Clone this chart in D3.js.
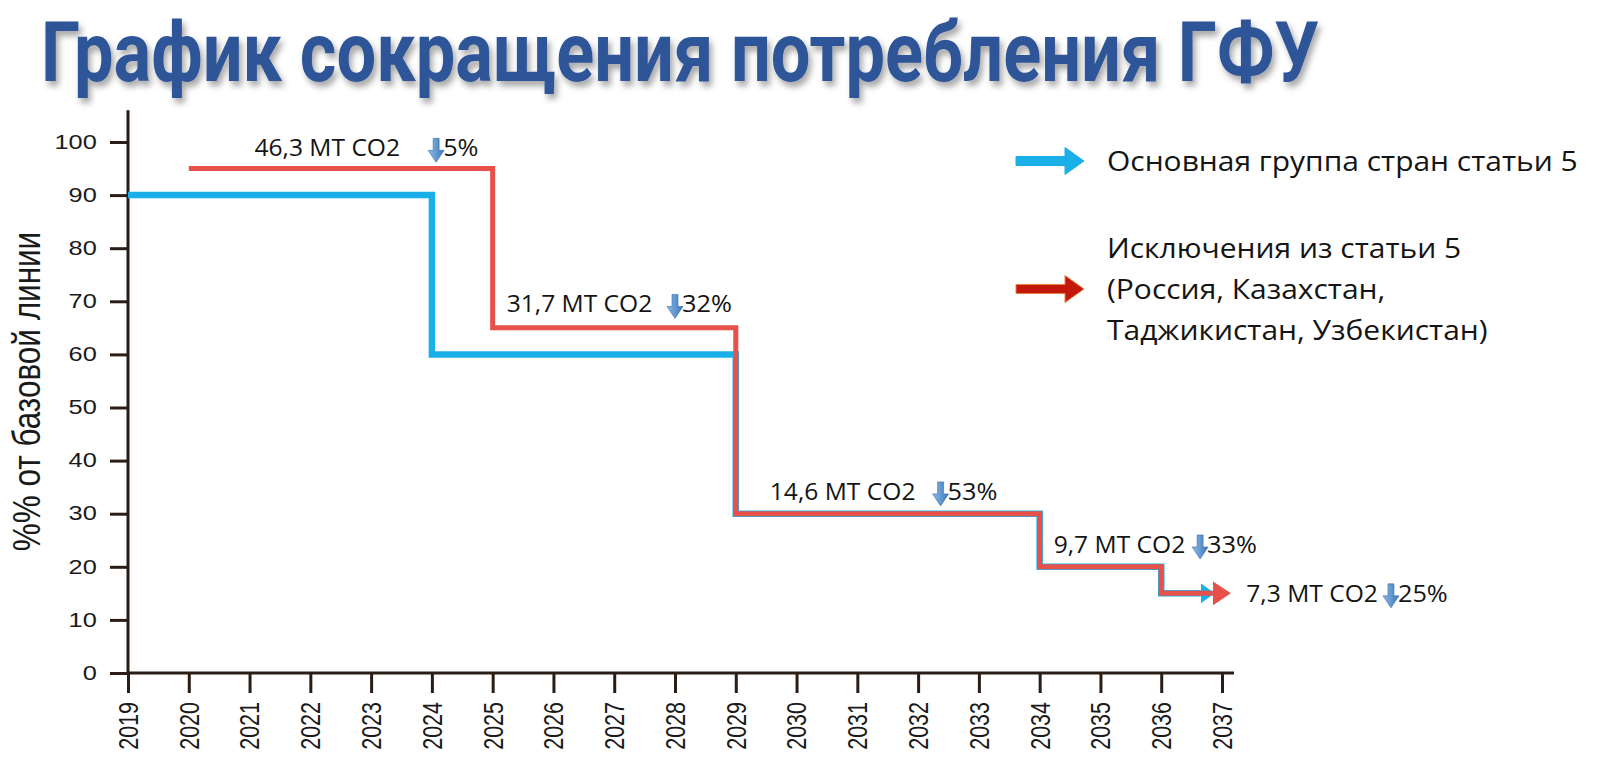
<!DOCTYPE html>
<html lang="ru">
<head>
<meta charset="UTF-8">
<title>График сокращения потребления ГФУ</title>
<script src="https://d3js.org/d3.v7.min.js"></script>
<style>
  body { margin: 0; background: #fff; }
  svg { display: block; }
  .axis path, .axis line { stroke: #2a1d16; stroke-width: 3; }
  .axis text { font-family: "Liberation Sans", Arial, sans-serif; fill: #1a1a1a; }
  .note text, .legend text { font-family: "Open Sans", sans-serif; fill: #141414; }
</style>
</head>
<body>
<svg width="1600" height="775"></svg>
<script>
const years = [2019, 2020, 2021, 2022, 2023, 2024, 2025, 2026, 2027, 2028,
               2029, 2030, 2031, 2032, 2033, 2034, 2035, 2036, 2037];
const yTicks = [0, 10, 20, 30, 40, 50, 60, 70, 80, 90, 100];

// step starts: value holds from this year until the next one
const mainYears  = [2019, 2024, 2029, 2034, 2036, 2036.65];
const mainValues = [90, 60, 30, 20, 15, 15];
const exclYears  = [2020, 2025, 2029, 2034, 2036, 2036.85];
const exclValues = [95, 65, 30, 20, 15, 15];

const noteLabels   = ["46,3 MT CO2", "31,7 MT CO2", "14,6 MT CO2", "9,7 MT CO2", "7,3 MT CO2"];
const notePercents = ["5%", "32%", "53%", "33%", "25%"];
const noteYears    = [2021.08, 2025.23, 2029.56, 2034.23, 2037.40];
const noteArrows   = [2024.07, 2028.00, 2032.37, 2036.64, 2039.78];
const noteValues   = [97.3, 67.9, 32.6, 22.6, 13.4];

const legendMain = ["Основная группа стран статьи 5"];
const legendExcl = ["Исключения из статьи 5", "(Россия, Казахстан,", "Таджикистан, Узбекистан)"];

const blue = "#1bafe8", red = "#e8504a";

const svg = d3.select("svg");
const defs = svg.append("defs");

const shadow = defs.append("filter").attr("id", "shadow")
    .attr("x", "-5%").attr("y", "-20%").attr("width", "110%").attr("height", "160%");
shadow.append("feDropShadow").attr("dx", 3).attr("dy", 5).attr("stdDeviation", 3)
    .attr("flood-color", "#000").attr("flood-opacity", 0.35);

const grad = defs.append("linearGradient").attr("id", "down");
grad.append("stop").attr("offset", "0%").attr("stop-color", "#8dbbe8");
grad.append("stop").attr("offset", "100%").attr("stop-color", "#3b76b8");

function head(id, color, len, half) {
    defs.append("marker").attr("id", id)
        .attr("markerUnits", "userSpaceOnUse")
        .attr("markerWidth", len).attr("markerHeight", half * 2)
        .attr("viewBox", `0 ${-half} ${len} ${half * 2}`)
        .attr("refX", 0).attr("refY", 0).attr("orient", "auto")
        .append("path").attr("d", `M0,${-half}L${len},0L0,${half}Z`).attr("fill", color);
}
head("headBlue", blue, 14, 10);
head("headRed", red, 18, 12);

// title
svg.append("text")
    .attr("x", 41).attr("y", 81)
    .attr("textLength", 1278).attr("lengthAdjust", "spacingAndGlyphs")
    .attr("font-family", "Roboto, sans-serif").attr("font-weight", 700)
    .attr("font-size", 84).attr("fill", "#2f5597")
    .attr("filter", "url(#shadow)")
    .text("График сокращения потребления ГФУ");

const x = d3.scaleLinear().domain([2019, 2037]).range([128, 1222]);
const y = d3.scaleLinear().domain([0, 100]).range([673, 142]);

// axes
const xAxis = svg.append("g").attr("class", "axis")
    .attr("transform", `translate(0,${y(0)})`)
    .call(d3.axisBottom(x).tickValues(years).tickFormat(d3.format("d")).tickSize(20).tickSizeOuter(0));
xAxis.select(".domain").remove();
xAxis.selectAll("text")
    .attr("x", 0).attr("y", 0).attr("dy", "0.35em")
    .attr("text-anchor", "end").attr("font-size", 21.5)
    .attr("transform", "translate(0,29) scale(1.25,1) rotate(-90)");

const yAxis = svg.append("g").attr("class", "axis")
    .attr("transform", `translate(${x(2019)},0)`)
    .call(d3.axisLeft(y).tickValues(yTicks).tickSize(18).tickSizeOuter(0));
yAxis.select(".domain").remove();
yAxis.selectAll("text")
    .attr("x", -24).attr("font-size", 19.5)
    .attr("transform", "scale(1.3,1)");

svg.append("g").attr("class", "axis").append("path")
    .attr("d", `M${x(2019)},${y(106)}V${y(0)}H${x(2037) + 12}`)
    .attr("fill", "none");

svg.append("text")
    .attr("transform", `translate(26,${y(53)}) scale(1.25,1) rotate(-90)`)
    .attr("text-anchor", "middle").attr("dy", "0.35em")
    .attr("font-family", "Liberation Sans, Arial, sans-serif").attr("font-size", 31.5)
    .attr("fill", "#1a1a1a")
    .text("%% от базовой линии");

// step lines
const line = d3.line().x(d => x(d[0])).y(d => y(d[1])).curve(d3.curveStepAfter);
svg.append("path")
    .attr("d", line(d3.zip(mainYears, mainValues)))
    .attr("fill", "none").attr("stroke", blue).attr("stroke-width", 6.5)
    .attr("stroke-linejoin", "miter").attr("marker-end", "url(#headBlue)");
svg.append("path")
    .attr("d", line(d3.zip(exclYears, exclValues)))
    .attr("fill", "none").attr("stroke", red).attr("stroke-width", 5)
    .attr("stroke-linejoin", "miter").attr("marker-end", "url(#headRed)");

// notes
const note = svg.append("g").attr("class", "note");
noteLabels.forEach((label, i) => {
    const by = y(noteValues[i]);
    note.append("text")
        .attr("transform", `translate(${x(noteYears[i])},${by}) scale(1.07,1)`)
        .attr("font-size", 23).text(label);
    const ax = x(noteArrows[i]);
    note.append("path")
        .attr("d", `M${ax - 3},${by - 18}h6v12h5l-8,12l-8,-12h5z`)
        .attr("fill", "url(#down)").attr("stroke", "#3a6fae").attr("stroke-width", 0.6);
    note.append("text")
        .attr("transform", `translate(${ax + 7},${by}) scale(1.1,1)`)
        .attr("font-size", 23).text(notePercents[i]);
});

// legend
const legend = svg.append("g").attr("class", "legend");
function blockArrow(cy, fill, stroke) {
    legend.append("path")
        .attr("d", `M1016,${cy - 4.5}h49v-9l19,13.5l-19,13.5v-9h-49z`)
        .attr("fill", fill).attr("stroke", stroke).attr("stroke-width", 1);
}
blockArrow(161, blue, blue);
blockArrow(289, "#c4170c", "#e8823c");

legend.selectAll(".lm").data(legendMain).enter().append("text")
    .attr("transform", (d, i) => `translate(1107,${171 + i * 41}) scale(1.11,1)`)
    .attr("font-size", 27).text(d => d);
legend.selectAll(".le").data(legendExcl).enter().append("text")
    .attr("transform", (d, i) => `translate(1107,${258 + i * 41}) scale(1.11,1)`)
    .attr("font-size", 27).text(d => d);
</script>
</body>
</html>
